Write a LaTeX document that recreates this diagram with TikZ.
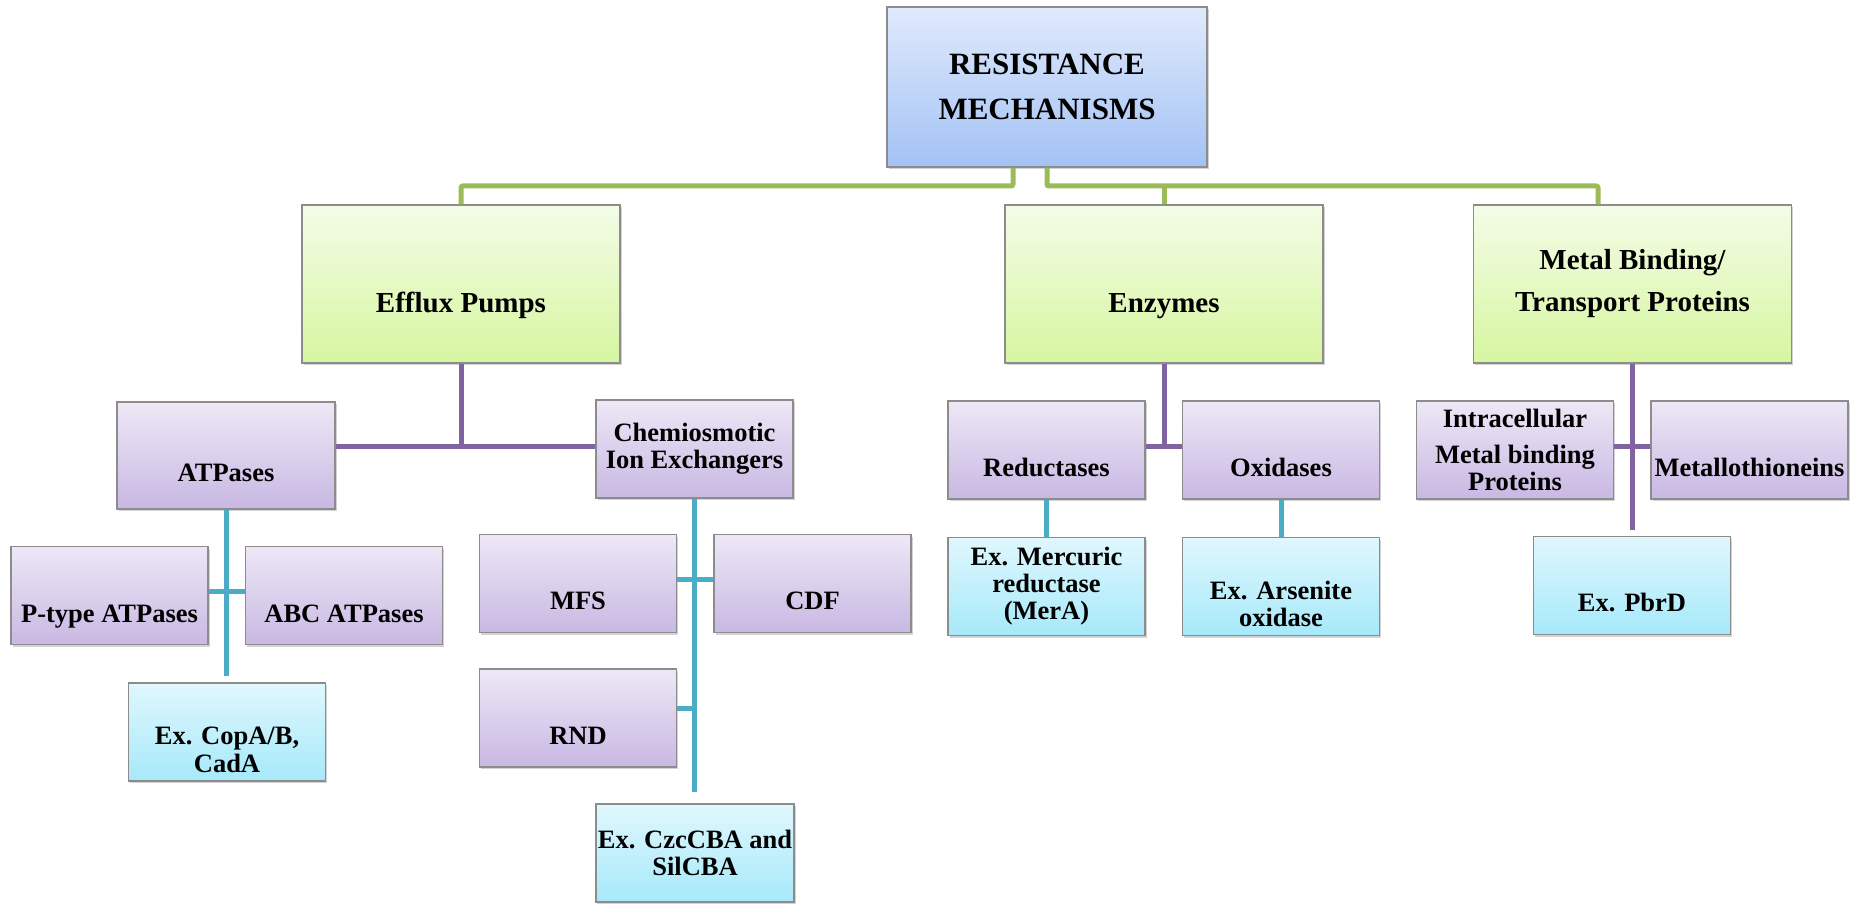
\documentclass[tikz,border=0pt]{standalone}
\usepackage{fontspec}
\setmainfont{Liberation Serif}
\usepackage{xcolor}
\usepackage{tikz}
\usetikzlibrary{shadows,positioning,calc}

\definecolor{rootTop}{RGB}{224,234,252}
\definecolor{rootBot}{RGB}{163,194,245}
\definecolor{greenTop}{RGB}{244,252,231}
\definecolor{greenBot}{RGB}{214,246,160}
\definecolor{purpTop}{RGB}{237,232,246}
\definecolor{purpBot}{RGB}{201,184,227}
\definecolor{cyanTop}{RGB}{224,247,253}
\definecolor{cyanBot}{RGB}{166,233,250}
\definecolor{boxEdge}{RGB}{140,140,140}
\definecolor{lineGreen}{RGB}{155,187,89}
\definecolor{linePurp}{RGB}{128,100,162}
\definecolor{lineCyan}{RGB}{75,172,198}

\begin{document}
\begin{tikzpicture}[x=0.5pt, y=-0.5pt,
    box/.style={draw=boxEdge, line width=0.7pt, align=center, inner sep=1pt,
        font=\bfseries\fontsize{13.25}{13.5}\selectfont,
        drop shadow={shadow xshift=0.8pt, shadow yshift=-1.2pt, opacity=0.35}},
    low/.style={text height=#1, text depth=0pt},
    rootbox/.style={box, top color=rootTop, bottom color=rootBot,
        minimum width=160pt, minimum height=80pt,
        font=\bfseries\fontsize{15.5}{22.5}\selectfont},
    mainbox/.style={box, top color=greenTop, bottom color=greenBot,
        minimum width=159pt, minimum height=79pt,
        font=\bfseries\fontsize{14.5}{21}\selectfont},
    subbox/.style={box, top color=purpTop, bottom color=purpBot,
        minimum width=98.5pt, minimum height=49pt},
    exbox/.style={box, top color=cyanTop, bottom color=cyanBot,
        minimum width=98.5pt, minimum height=49pt},
    greenline/.style={line width=2.5pt, lineGreen, rounded corners=1pt},
    purpline/.style={line width=2.5pt, linePurp},
    cyanline/.style={line width=2.5pt, lineCyan}]
    \useasboundingbox (0,0) rectangle (1864,908);

    % Root
    \node[rootbox] (root) at (1047,87) {RESISTANCE\\MECHANISMS};

    % Main groups
    \node[mainbox, low=29pt] (efflux) at (461,284) {Efflux Pumps};
    \node[mainbox, low=29pt] (enzymes) at (1164,284) {Enzymes};
    \node[mainbox] (metalbind) at (1632.5,284) {Metal Binding/\\Transport Proteins};

    % Efflux pumps
    \node[subbox, low=26.5pt, minimum height=53.5pt, minimum width=109pt] (atpases) at (226,455.5) {ATPases};
    \node[subbox] (chemio) at (694.5,449) {Chemiosmotic\\Ion Exchangers};
    \node[subbox, low=27.5pt] (ptype) at (109.5,595.5) {P-type ATPases};
    \node[subbox, low=27.5pt] (abc) at (344,595.5) {ABC ATPases};
    \node[exbox, low=40pt] (copa) at (227,732) {Ex. CopA/B,\\CadA};
    \node[subbox, low=26.5pt] (mfs) at (578,583.5) {MFS};
    \node[subbox, low=26.5pt] (cdf) at (812.5,583.5) {CDF};
    \node[subbox, low=27pt] (rnd) at (578,718) {RND};
    \node[exbox] (czc) at (695,853) {Ex. CzcCBA and\\SilCBA};

    % Enzymes
    \node[subbox, low=27pt] (reduct) at (1046.5,450) {Reductases};
    \node[subbox, low=27pt] (oxid) at (1281,450) {Oxidases};
    \node[exbox] (mercur) at (1046.5,586.5) {Ex. Mercuric\\reductase\\(MerA)};
    \node[exbox, low=40.5pt] (arsen) at (1281,586.5) {Ex. Arsenite\\oxidase};

    % Metal binding
    \node[subbox] (intra) at (1515,450) {Intracellular\\[4.75pt]Metal binding\\Proteins};
    \node[subbox, low=27pt] (metallo) at (1749.5,450) {Metallothioneins};
    \node[exbox, low=26.5pt] (pbrd) at (1632,585.5) {Ex. PbrD};

    % Connectors from the root
    \coordinate (gl) at (1013,186);
    \coordinate (gr) at (1598,186);
    \draw[greenline] (root.south -| gl) -- (gl) -| (efflux.north);
    \draw[greenline] (root.south) |- (gr) -- (gr |- metalbind.north);
    \draw[greenline] (enzymes.north |- gr) -- (enzymes.north);

    % Second level
    \coordinate (pe) at (461,447);
    \draw[purpline] (efflux.south) -- (efflux.south |- pe);
    \draw[purpline] (atpases.east |- pe) -- (chemio.west |- pe);
    \coordinate (pz) at (1164,447);
    \draw[purpline] (enzymes.south) -- (enzymes.south |- pz);
    \draw[purpline] (reduct.east |- pz) -- (oxid.west |- pz);
    \coordinate (pm) at (1632,447);
    \coordinate (pmend) at (1632,530);
    \draw[purpline] (metalbind.south) -- (metalbind.south |- pmend);
    \draw[purpline] (intra.east |- pm) -- (metallo.west |- pm);

    % Third level
    \coordinate (ca) at (227,592);
    \coordinate (caend) at (227,676);
    \draw[cyanline] (atpases.south) -- (atpases.south |- caend);
    \draw[cyanline] (ptype.east |- ca) -- (abc.west |- ca);
    \coordinate (cm) at (695,580);
    \coordinate (cr) at (695,709);
    \coordinate (ccend) at (695,792);
    \draw[cyanline] (chemio.south) -- (chemio.south |- ccend);
    \draw[cyanline] (mfs.east |- cm) -- (cdf.west |- cm);
    \draw[cyanline] (rnd.east |- cr) -- (chemio.south |- cr);
    \draw[cyanline] (reduct.south) -- (mercur.north);
    \draw[cyanline] (oxid.south) -- (arsen.north);
\end{tikzpicture}
\end{document}
